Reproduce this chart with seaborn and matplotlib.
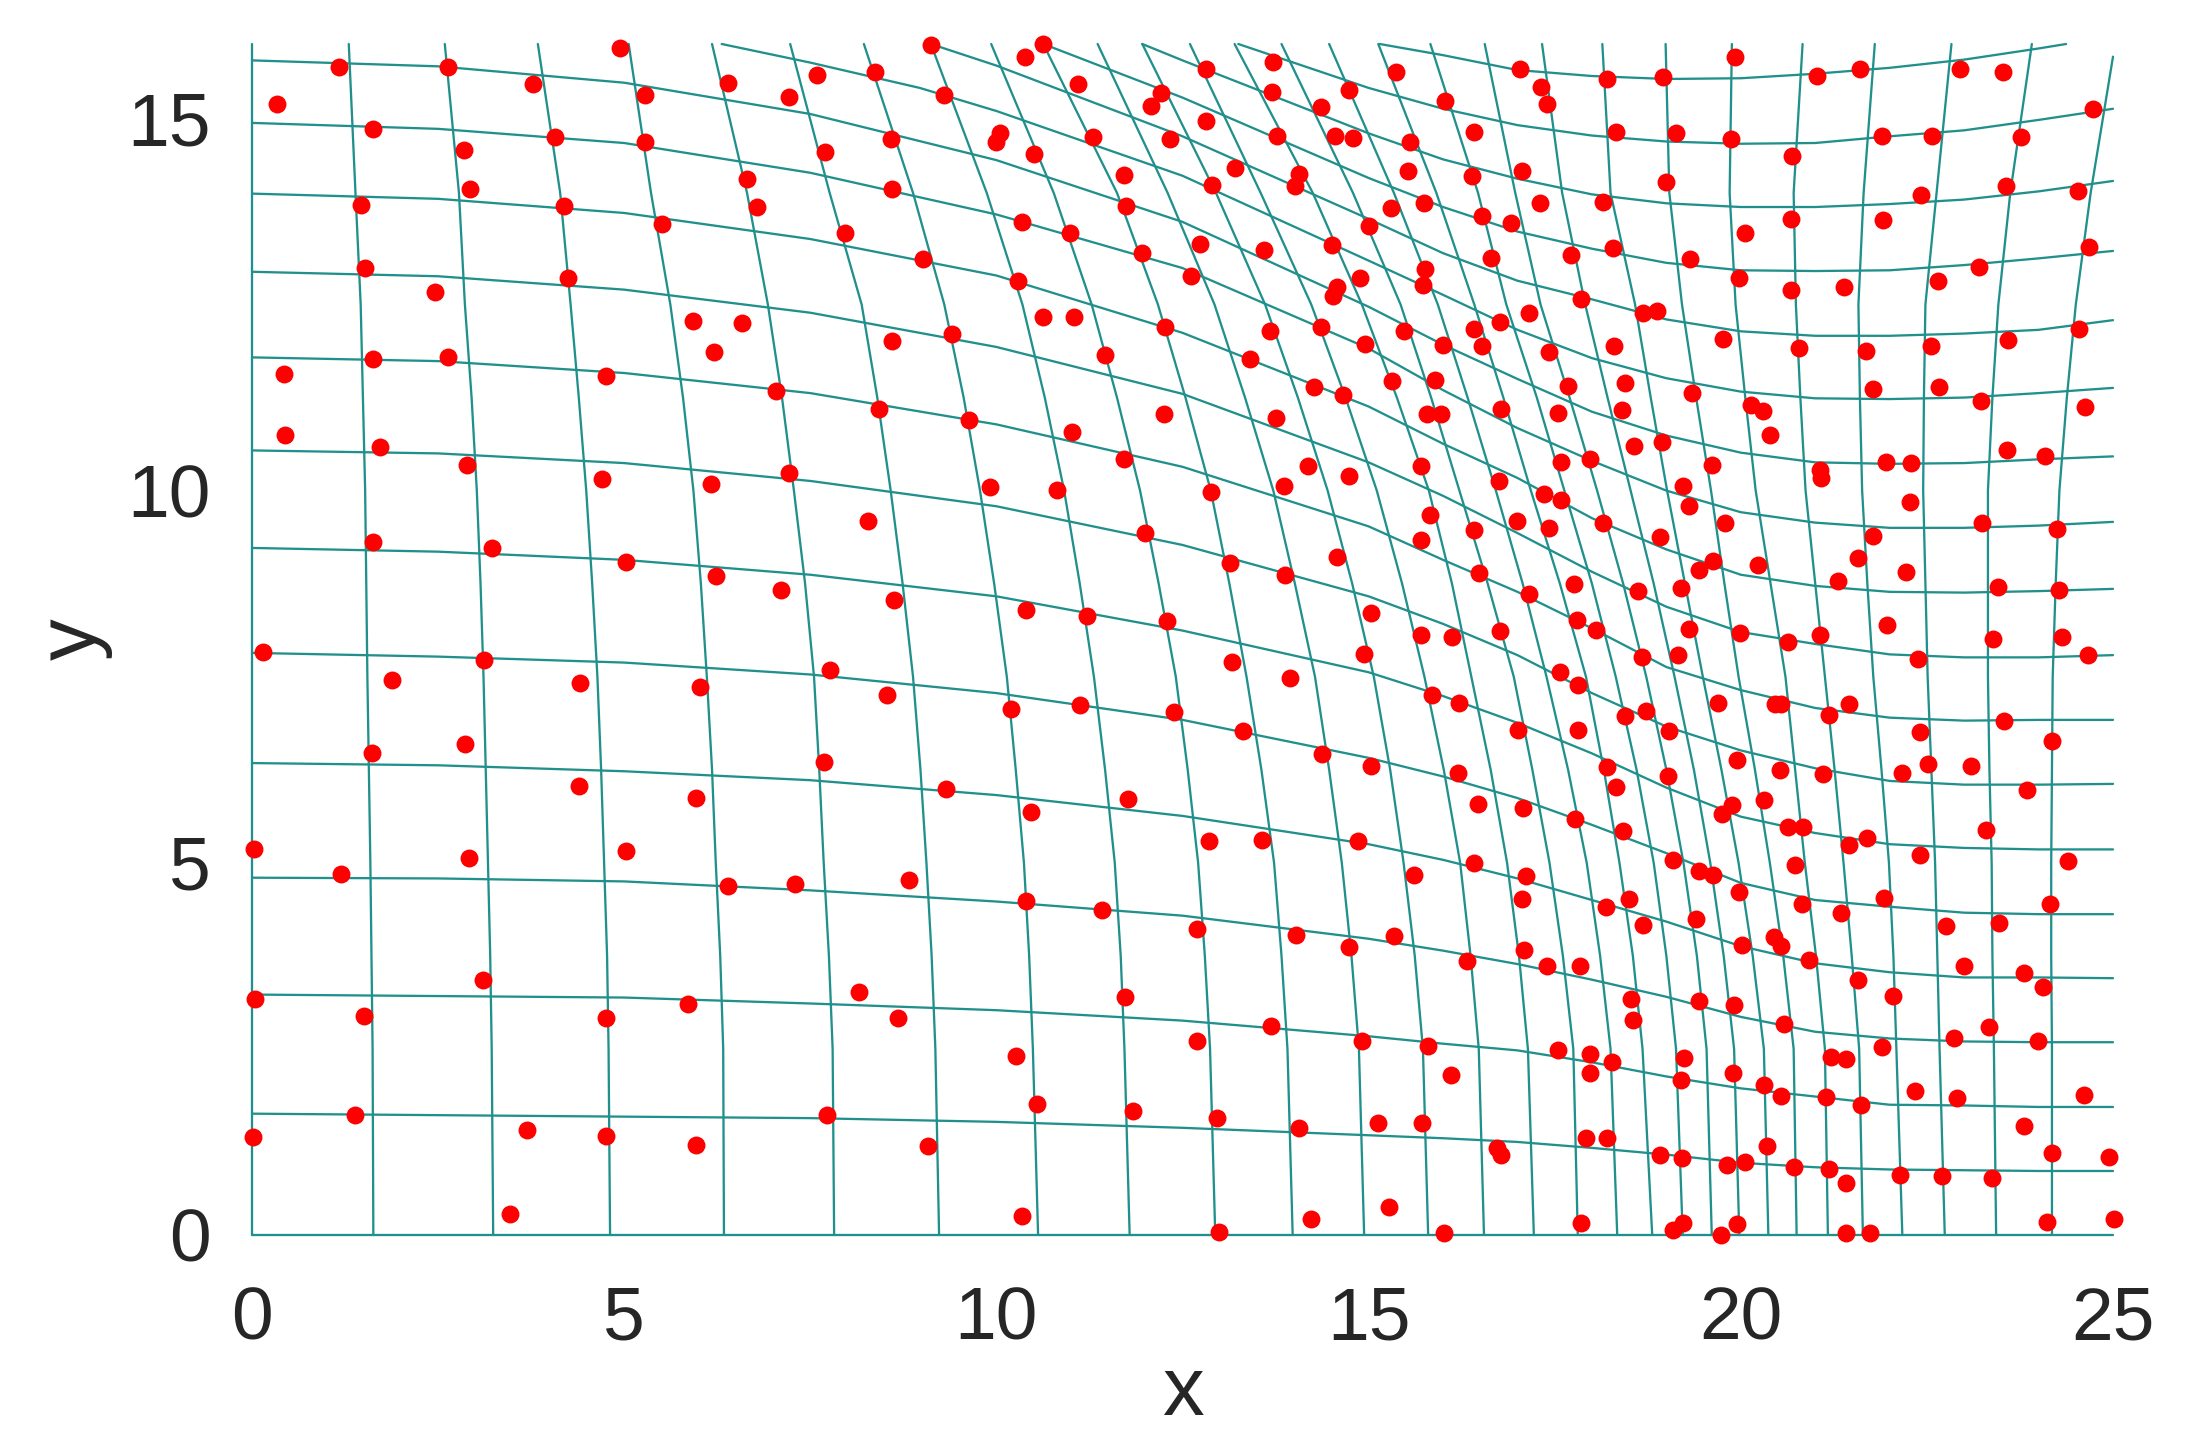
import numpy as np
import pandas as pd
import matplotlib
matplotlib.use('Agg')
import matplotlib.pyplot as plt
import seaborn as sns

# scattered points
dots = [
    (1.17,15.69),(2.63,15.69),(0.34,15.19),(3.78,15.46),(4.95,15.95),(5.28,15.32),(6.40,15.48),(7.22,15.29),(7.59,15.59),(8.37,15.62),
    (1.62,14.86),(2.85,14.58),(4.07,14.75),(5.28,14.68),(8.59,14.73),(7.70,14.55),(2.93,14.05),(6.65,14.18),(6.79,13.81),(8.60,14.05),
    (1.47,13.84),(4.19,13.83),(5.51,13.58),(7.97,13.46),(1.52,12.99),(4.24,12.85),(2.46,12.67),(5.92,12.28),(6.58,12.25),(6.21,11.86),
    (8.60,12.01),(1.62,11.77),(2.63,11.80),(0.43,11.57),(4.75,11.54),(7.04,11.34),(8.42,11.09),(0.44,10.75),(1.72,10.58),(2.89,10.35),
    (4.70,10.15),(6.17,10.09),(7.22,10.24),(8.27,9.59),(1.63,9.31),(3.22,9.23),(5.02,9.04),(6.23,8.85),(7.10,8.66),(8.63,8.53),
    (0.15,7.83),(3.12,7.72),(1.88,7.45),(4.40,7.42),(6.02,7.36),(7.76,7.59),(8.53,7.26),(1.61,6.47),(2.86,6.59),(7.68,6.35),
    (4.39,6.03),(5.96,5.87),(0.03,5.18),(2.92,5.06),(5.02,5.16),(1.20,4.85),(6.39,4.69),(7.29,4.71),(8.82,4.77),
    (3.10,3.43),(0.04,3.17),(1.51,2.94),(4.76,2.91),(5.86,3.10),(8.16,3.26),(8.68,2.91),(1.38,1.61),(0.02,1.32),(3.70,1.41),
    (4.75,1.33),(5.96,1.21),(7.73,1.61),(3.46,0.28),
    (9.12,15.98),(10.38,15.83),(10.63,16.0),(11.10,15.46),(9.30,15.31),(12.21,15.34),(12.08,15.17),(12.81,15.66),(13.71,15.76),(13.70,15.36),
    (14.74,15.38),(14.36,15.16),(15.37,15.62),(16.03,15.24),(17.04,15.67),(17.32,15.42),(17.39,15.19),(12.82,14.96),(10.05,14.81),(9.99,14.68),
    (11.30,14.75),(12.33,14.73),(13.77,14.76),(14.55,14.76),(14.79,14.74),(15.55,14.69),(16.42,14.82),(10.50,14.52),(13.21,14.33),(14.07,14.25),
    (14.01,14.09),(15.53,14.30),(16.39,14.22),(17.06,14.30),(11.71,14.24),(12.90,14.10),(11.74,13.83),(15.30,13.80),(15.74,13.87),(16.53,13.69),
    (16.91,13.59),(17.30,13.86),(15.00,13.55),(10.35,13.61),(10.99,13.46),(9.01,13.11),(11.96,13.19),(12.73,13.31),(13.59,13.23),(14.51,13.30),
    (16.64,13.13),(17.72,13.17),(10.29,12.82),(12.62,12.89),(15.76,12.98),(15.73,12.76),(14.88,12.86),(14.58,12.73),(14.52,12.62),(17.86,12.58),
    (10.62,12.33),(11.04,12.33),(12.26,12.20),(13.68,12.14),(14.36,12.20),(15.47,12.15),(16.42,12.17),(16.77,12.27),(17.16,12.39),(9.41,12.11),
    (14.95,11.97),(16.00,11.96),(16.53,11.94),(17.42,11.86),(11.46,11.82),(13.41,11.77),(15.31,11.47),(15.89,11.49),(17.68,11.41),(14.26,11.39),
    (14.66,11.29),(9.63,10.95),(12.25,11.03),(13.75,10.98),(15.79,11.03),(15.97,11.03),(16.78,11.10),(17.54,11.04),(11.01,10.79),(11.72,10.42),
    (14.19,10.33),(15.70,10.33),(17.58,10.39),(17.97,10.42),
    (9.91,10.05),(10.81,10.01),(12.88,9.98),(13.86,10.06),(14.74,10.20),(16.75,10.13),(17.35,9.96),(17.58,9.88),(15.82,9.67),(16.42,9.47),
    (16.99,9.59),(17.43,9.50),(15.71,9.34),(12.00,9.43),(14.57,9.11),(13.14,9.03),(13.88,8.87),(16.48,8.89),(17.15,8.61),(17.76,8.75),
    (17.80,8.26),(18.06,8.13),(10.40,8.39),(11.22,8.32),(12.29,8.25),(15.03,8.36),(15.70,8.06),(16.12,8.04),(16.77,8.12),(13.17,7.70),
    (13.94,7.48),(14.94,7.80),(17.57,7.57),(17.81,7.39),(15.85,7.26),(16.22,7.15),(10.20,7.06),(11.12,7.12),(12.38,7.03),(13.31,6.77),
    (17.01,6.78),(17.81,6.79),(14.38,6.46),(15.03,6.30),(16.20,6.20),(18.20,6.29),(9.32,5.99),(11.77,5.86),(10.46,5.68),(16.47,5.79),
    (17.07,5.73),(17.77,5.59),(12.85,5.29),(13.57,5.30),(14.86,5.29),(16.42,5.00),(15.61,4.83),(17.11,4.82),(17.06,4.52),(10.40,4.49),
    (11.42,4.36),(12.69,4.11),(14.03,4.03),(14.73,3.87),(15.34,4.02),(16.32,3.68),(17.09,3.83),(17.40,3.61),(17.84,3.61),(11.73,3.20),
    (13.69,2.81),(14.91,2.60),(15.80,2.54),(12.69,2.60),(10.26,2.40),(16.11,2.15),(17.54,2.48),(17.97,2.43),(17.98,2.17),(10.55,1.76),
    (11.84,1.66),(12.96,1.57),(14.07,1.44),(15.13,1.50),(15.72,1.50),(16.73,1.17),(16.78,1.08),(17.92,1.30),(9.08,1.19),(10.34,0.26),
    (14.23,0.22),(15.27,0.38),(12.99,0.04),(16.01,0.03),(17.85,0.16),
    (18.20,15.53),(18.96,15.55),(19.92,15.83),(21.02,15.57),(21.60,15.66),(22.94,15.66),(23.52,15.63),(24.73,15.13),(18.33,14.82),(19.13,14.81),
    (19.87,14.72),(21.90,14.76),(22.57,14.76),(23.77,14.75),(20.69,14.49),(18.99,14.14),(18.15,13.88),(22.42,13.97),(23.56,14.09),(24.53,14.02),
    (20.68,13.65),(20.05,13.46),(21.91,13.63),(24.68,13.27),(18.28,13.26),(19.32,13.11),(19.98,12.86),(20.67,12.70),(21.39,12.73),(22.65,12.81),
    (23.20,13.01),(18.68,12.38),(18.87,12.41),(24.54,12.17),(19.76,12.04),(20.78,11.91),(21.68,11.87),(22.55,11.94),(23.59,12.03),(18.29,11.94),
    (18.45,11.45),(19.34,11.31),(21.77,11.36),(22.66,11.39),(23.23,11.21),(20.14,11.15),(20.30,11.07),(20.39,10.75),(24.62,11.12),(18.41,11.08),
    (18.56,10.60),(18.94,10.65),(19.61,10.34),(21.95,10.39),(22.28,10.37),(23.57,10.54),(24.09,10.47),
    (21.06,10.28),(21.08,10.17),(19.22,10.06),(19.31,9.79),(22.27,9.85),(19.79,9.57),(23.24,9.57),(24.25,9.49),(18.15,9.56),(18.91,9.38),
    (21.77,9.39),(21.58,9.10),(19.63,9.06),(19.44,8.93),(20.23,9.00),(22.22,8.91),(21.31,8.78),(18.62,8.65),(19.20,8.69),(23.46,8.71),
    (24.27,8.66),(21.96,8.19),(19.31,8.14),(19.99,8.09),(20.64,7.97),(21.07,8.06),(23.39,8.01),(24.31,8.04),(24.67,7.79),(22.38,7.74),
    (18.67,7.77),(19.15,7.79),(19.70,7.15),(20.46,7.13),(20.54,7.13),(21.45,7.13),(21.19,6.98),(18.73,7.04),(18.45,6.97),(23.54,6.91),
    (22.41,6.76),(24.18,6.64),(19.04,6.77),(19.95,6.38),(20.52,6.25),(21.11,6.19),(22.16,6.21),(22.51,6.33),(23.09,6.30),(19.02,6.16),
    (18.32,6.02),(23.84,5.98),(20.31,5.84),(19.88,5.77),(19.75,5.66),(18.42,5.43),(20.63,5.48),(20.84,5.48),(23.30,5.44),(21.69,5.34),
    (21.45,5.24),(22.41,5.11),(19.09,5.04),(24.40,5.02),(20.73,4.97),(19.44,4.89),(19.63,4.83),(19.97,4.61),(18.50,4.52),(18.19,4.41),
    (21.92,4.53),(20.82,4.45),(21.34,4.32),(24.16,4.45),
    (18.68,4.17),(19.40,4.25),(22.76,4.15),(23.47,4.19),(20.02,3.89),(20.44,4.00),(20.54,3.88),(20.92,3.69),(21.58,3.42),(23.00,3.62),
    (23.80,3.52),(24.06,3.33),(22.04,3.21),(18.52,3.17),(19.44,3.15),(19.91,3.09),(18.55,2.89),(20.58,2.84),(23.34,2.79),(22.87,2.65),
    (23.99,2.61),(18.27,2.33),(19.24,2.38),(19.20,2.08),(21.90,2.52),(21.21,2.39),(21.41,2.36),(19.90,2.18),(20.31,2.01),(20.54,1.87),
    (21.14,1.85),(21.62,1.75),(22.34,1.94),(22.90,1.84),(24.61,1.88),(23.80,1.47),(20.35,1.20),(18.20,1.30),(18.91,1.08),(19.21,1.03),
    (19.82,0.94),(20.06,0.98),(20.72,0.91),(21.18,0.89),(21.41,0.70),(22.14,0.81),(22.70,0.79),(23.38,0.77),(24.18,1.10),(24.95,1.05),
    (19.09,0.07),(19.22,0.16),(19.95,0.15),(19.74,0.0),(21.41,0.03),(21.73,0.03),(24.11,0.17),(25.01,0.22),
]

# mesh lines running left to right, y read at these x stations
h_x = [0, 2.5, 5, 7.5, 10, 12.5, 15, 16, 17, 18, 19, 20, 21, 22, 23, 24, 25]
h_lines = [
    [0] * 17,
    [1.63, 1.61, 1.59, 1.57, 1.52, 1.44, 1.34, 1.30, 1.25, 1.17, 1.08, 0.97, 0.91, 0.88, 0.87, 0.86, 0.86],
    [3.23, 3.21, 3.19, 3.11, 3.02, 2.88, 2.67, 2.57, 2.48, 2.32, 2.13, 1.97, 1.86, 1.75, 1.74, 1.72, 1.72],
    [4.80, 4.79, 4.75, 4.63, 4.48, 4.29, 3.98, 3.82, 3.64, 3.43, 3.20, 2.93, 2.73, 2.64, 2.60, 2.59, 2.59],
    [6.34, 6.31, 6.23, 6.11, 5.91, 5.63, 5.25, 5.04, 4.79, 4.50, 4.21, 3.88, 3.65, 3.53, 3.46, 3.46, 3.45],
    [7.82, 7.77, 7.69, 7.53, 7.28, 6.92, 6.41, 6.16, 5.87, 5.51, 5.13, 4.73, 4.50, 4.41, 4.33, 4.31, 4.31],
    [9.23, 9.18, 9.07, 8.87, 8.58, 8.12, 7.56, 7.24, 6.88, 6.47, 6.01, 5.62, 5.40, 5.25, 5.20, 5.18, 5.18],
    [10.54, 10.50, 10.37, 10.13, 9.79, 9.27, 8.58, 8.21, 7.79, 7.28, 6.83, 6.51, 6.27, 6.10, 6.05, 6.05, 6.06],
    [11.79, 11.74, 11.58, 11.31, 10.89, 10.32, 9.52, 9.07, 8.64, 8.15, 7.63, 7.32, 7.08, 6.95, 6.91, 6.92, 6.92],
    [12.94, 12.88, 12.70, 12.39, 11.93, 11.30, 10.38, 9.93, 9.43, 8.91, 8.44, 8.10, 7.94, 7.80, 7.76, 7.76, 7.79],
    [13.99, 13.92, 13.73, 13.38, 12.89, 12.12, 11.13, 10.63, 10.17, 9.63, 9.21, 8.87, 8.72, 8.64, 8.63, 8.65, 8.68],
    [14.94, 14.86, 14.67, 14.27, 13.71, 12.99, 11.91, 11.35, 10.84, 10.40, 10.00, 9.71, 9.57, 9.50, 9.50, 9.53, 9.58],
    [15.78, 15.70, 15.48, 15.06, 14.44, 13.61, 12.47, 11.96, 11.50, 11.06, 10.74, 10.51, 10.38, 10.36, 10.37, 10.42, 10.46],
]

# the upper ones come in through the top edge
top_lines = [
    ([6.31, 7.5, 8.97, 10, 12.5, 15, 16, 17, 18, 19, 20, 21, 22, 23, 24, 25],
     [16, 15.75, 15.41, 15.10, 14.23, 13.09, 12.63, 12.16, 11.78, 11.51, 11.33, 11.24, 11.23, 11.25, 11.31, 11.38]),
    ([9.12, 10, 12.5, 15, 16, 17, 18, 19, 20, 21, 22, 23, 24, 25],
     [16, 15.71, 14.76, 13.65, 13.19, 12.82, 12.57, 12.30, 12.14, 12.08, 12.08, 12.11, 12.16, 12.29]),
    ([10.63, 12.5, 15, 16, 17, 18, 19, 20, 21, 22, 23, 24, 25],
     [16, 15.28, 14.20, 13.81, 13.48, 13.25, 13.06, 12.96, 12.95, 12.96, 13.03, 13.12, 13.22]),
    ([11.96, 12.5, 15, 16, 17, 18, 19, 20, 21, 22, 23, 24, 25],
     [16, 15.78, 14.80, 14.45, 14.19, 13.98, 13.86, 13.81, 13.81, 13.85, 13.91, 14.02, 14.16]),
    ([13.25, 15, 16, 17, 18, 19, 20, 21, 22, 23, 24, 25],
     [16, 15.41, 15.13, 14.91, 14.77, 14.69, 14.66, 14.67, 14.76, 14.84, 14.98, 15.13]),
    ([15.15, 16, 17, 18, 19, 20, 21, 22, 23, 24, 24.37],
     [16, 15.85, 15.65, 15.57, 15.53, 15.54, 15.60, 15.68, 15.79, 15.94, 16]),
]

# mesh lines running bottom to top, x read at these y stations
v_y = [0, 2.5, 3.75, 5, 6.25, 7.5, 8.75, 10, 11.25, 12.5, 14, 16]
v_lines = [
    [0] * 12,
    [1.63, 1.62, 1.605, 1.59, 1.57, 1.55, 1.535, 1.52, 1.49, 1.46, 1.39, 1.30],
    [3.24, 3.22, 3.20, 3.17, 3.14, 3.11, 3.07, 3.02, 2.95, 2.86, 2.78, 2.59],
    [4.81, 4.79, 4.77, 4.73, 4.69, 4.64, 4.57, 4.49, 4.39, 4.28, 4.14, 3.84],
    [6.34, 6.33, 6.29, 6.23, 6.18, 6.11, 6.03, 5.93, 5.79, 5.62, 5.36, 5.06],
    [7.82, 7.80, 7.75, 7.68, 7.62, 7.55, 7.43, 7.28, 7.12, 6.93, 6.65, 6.18],
    [9.23, 9.18, 9.13, 9.06, 8.98, 8.88, 8.74, 8.58, 8.40, 8.19, 7.76, 7.23],
    [10.56, 10.49, 10.44, 10.37, 10.26, 10.14, 9.97, 9.78, 9.56, 9.30, 8.88, 8.22],
    [11.79, 11.72, 11.67, 11.59, 11.46, 11.31, 11.12, 10.91, 10.65, 10.35, 9.87, 9.12],
    [12.94, 12.87, 12.80, 12.71, 12.57, 12.41, 12.18, 11.93, 11.62, 11.28, 10.77, 9.93],
    [13.98, 13.91, 13.83, 13.73, 13.56, 13.36, 13.13, 12.88, 12.54, 12.17, 11.62, 10.63],
    [14.94, 14.87, 14.77, 14.64, 14.47, 14.28, 14.01, 13.72, 13.34, 12.93, 12.30, 11.36],
    [15.80, 15.73, 15.62, 15.47, 15.29, 15.07, 14.78, 14.45, 14.05, 13.61, 12.95, 11.96],
    [16.55, 16.48, 16.37, 16.23, 16.01, 15.75, 15.45, 15.11, 14.69, 14.23, 13.55, 12.60],
    [17.22, 17.14, 17.02, 16.86, 16.64, 16.38, 16.12, 15.81, 15.38, 14.91, 14.25, 13.20],
    [17.81, 17.75, 17.61, 17.43, 17.20, 16.95, 16.60, 16.22, 15.84, 15.43, 14.79, 13.83],
    [18.34, 18.25, 18.11, 17.93, 17.68, 17.39, 17.07, 16.71, 16.33, 15.93, 15.34, 14.47],
    [18.81, 18.68, 18.55, 18.37, 18.16, 17.92, 17.57, 17.18, 16.81, 16.42, 15.91, 15.13],
    [19.22, 19.13, 19.00, 18.83, 18.60, 18.32, 18.00, 17.63, 17.26, 16.85, 16.47, 15.83],
    [19.61, 19.54, 19.41, 19.23, 19.00, 18.73, 18.42, 18.07, 17.70, 17.31, 16.97, 16.56],
    [19.98, 19.91, 19.77, 19.59, 19.37, 19.11, 18.83, 18.52, 18.21, 17.91, 17.60, 17.33],
    [20.37, 20.31, 20.16, 19.97, 19.74, 19.49, 19.25, 19.01, 18.79, 18.58, 18.25, 18.14],
    [20.75, 20.71, 20.57, 20.39, 20.19, 19.97, 19.78, 19.60, 19.40, 19.21, 19.04, 18.99],
    [21.17, 21.13, 21.01, 20.86, 20.73, 20.60, 20.40, 20.20, 20.06, 19.93, 19.85, 19.88],
    [21.64, 21.59, 21.49, 21.38, 21.26, 21.13, 21.00, 20.87, 20.80, 20.74, 20.71, 20.83],
    [22.17, 22.09, 22.05, 21.99, 21.89, 21.78, 21.70, 21.63, 21.60, 21.58, 21.65, 21.80],
    [22.74, 22.67, 22.64, 22.61, 22.56, 22.51, 22.48, 22.45, 22.46, 22.48, 22.63, 22.83],
    [23.43, 23.40, 23.38, 23.37, 23.34, 23.32, 23.32, 23.32, 23.38, 23.46, 23.62, 23.91],
]
# right-most one stops on the right edge, short of the top
last_v_x = [24.18, 24.18, 24.17, 24.17, 24.18, 24.19, 24.23, 24.28, 24.38, 24.50, 24.70, 25.0]
last_v_y = [0, 2.5, 3.75, 5, 6.25, 7.5, 8.75, 10, 11.25, 12.5, 14, 15.83]

x_ticks = [0, 5, 10, 15, 20, 25]
y_ticks = [0, 5, 10, 15]

rows = []
n = 0
for ys in h_lines:
    rows += [(n, a, b) for a, b in zip(h_x, ys)]
    n += 1
for xs, ys in top_lines:
    rows += [(n, a, b) for a, b in zip(xs, ys)]
    n += 1
for xs in v_lines:
    rows += [(n, a, b) for a, b in zip(xs, v_y)]
    n += 1
rows += [(n, a, b) for a, b in zip(last_v_x, last_v_y)]
mesh = pd.DataFrame(rows, columns=['line', 'x', 'y'])
pts = pd.DataFrame(dots, columns=['x', 'y'])

sns.set_theme(style='white')
plt.rcParams['font.family'] = ['Liberation Sans', 'DejaVu Sans']

fig = plt.figure(figsize=(2193 / 300, 1449 / 300), dpi=300)
ax = fig.add_axes([252 / 2193, 1 - 1235 / 1449, (2113 - 252) / 2193, (1235 - 44) / 1449])

sns.lineplot(data=mesh, x='x', y='y', units='line', estimator=None, sort=False,
             color='#21908C', linewidth=0.55, ax=ax, clip_on=False, zorder=1)
sns.scatterplot(data=pts, x='x', y='y', color='#FF0000', s=18.5, linewidth=0,
                ax=ax, clip_on=False, zorder=3)

ax.set_xlim(0, 25)
ax.set_ylim(0, 16)
ax.set_xticks(x_ticks)
ax.set_yticks(y_ticks)
ax.tick_params(axis='x', labelsize=18, pad=12, length=0)
ax.tick_params(axis='y', labelsize=18, pad=10, length=0)
ax.set_xlabel('x', fontsize=20, labelpad=0)
ax.set_ylabel('y', fontsize=20, labelpad=3.3)
sns.despine(ax=ax, left=True, bottom=True)

fig.savefig('out.png', dpi=300)
